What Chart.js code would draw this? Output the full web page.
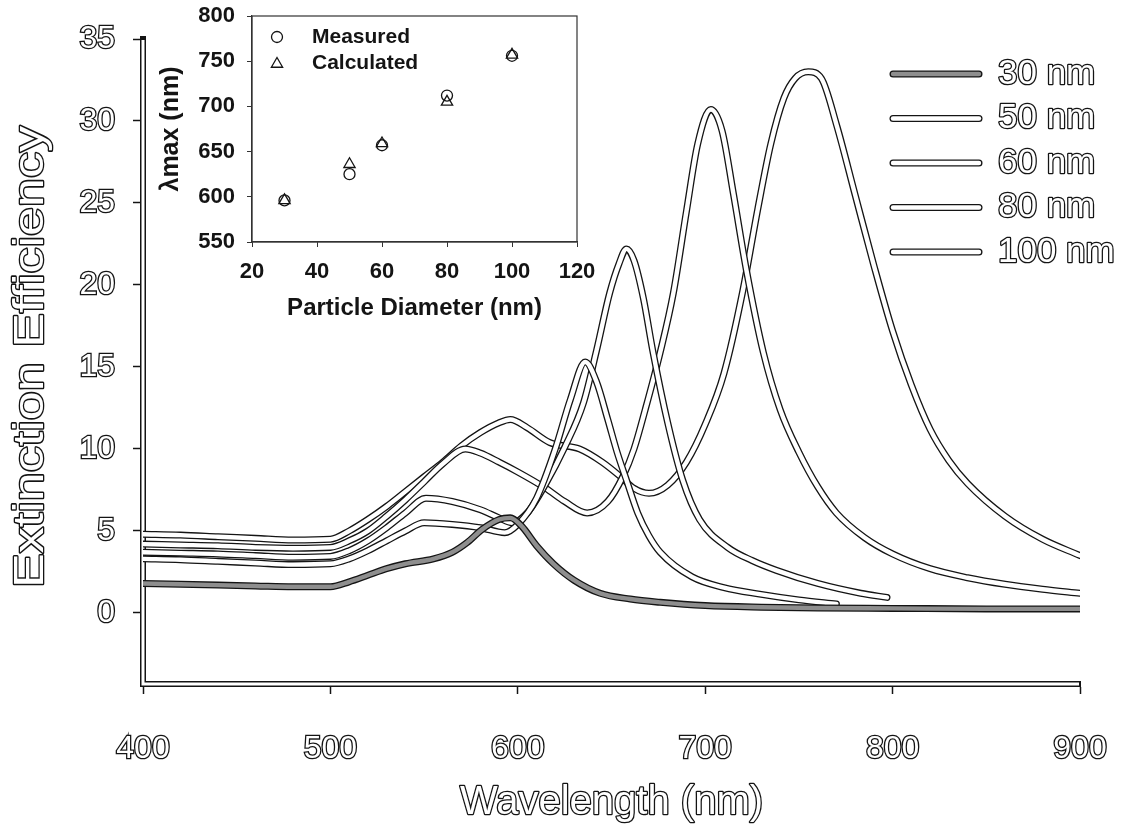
<!DOCTYPE html>
<html>
<head>
<meta charset="utf-8">
<title>Extinction efficiency spectra</title>
<script src="https://cdn.jsdelivr.net/npm/chart.js@4.4.1/dist/chart.umd.min.js"></script>
<style>
  html, body { margin: 0; padding: 0; background: #fff; }
  #wrap { position: relative; width: 1132px; height: 830px; }
  #main { position: absolute; left: 0; top: 0; }
  #inset { position: absolute; left: 130px; top: 0; }
</style>
</head>
<body>
<div id="wrap">
  <canvas id="main" width="1132" height="830"></canvas>
  <canvas id="inset" width="470" height="330"></canvas>
</div>
<script>
/* ---- extinction spectra, one wavelength grid per particle size ---- */
const sizeLabels = ["30 nm", "50 nm", "60 nm", "80 nm", "100 nm"];

const wl30  = [400, 420, 440, 460, 480, 500, 510, 520, 530, 540, 555, 565, 573, 581, 590, 596, 602, 610, 619, 630, 644, 660, 676, 700, 730, 760, 800, 850, 900];
const ext30 = [1.8, 1.75, 1.7, 1.65, 1.6, 1.6, 1.9, 2.3, 2.7, 3.0, 3.3, 3.7, 4.3, 5.1, 5.7, 5.8, 5.3, 4.1, 3.0, 2.0, 1.2, 0.85, 0.65, 0.45, 0.35, 0.3, 0.28, 0.25, 0.25];

const wl50  = [400, 420, 440, 460, 480, 500, 510, 520, 530, 540, 550, 565, 580, 593, 600, 610, 620, 628, 636, 642, 648, 653, 658, 664, 670, 676, 693, 710, 729, 750, 770];
const ext50 = [3.3, 3.25, 3.15, 3.05, 2.95, 3.0, 3.3, 3.8, 4.4, 5.0, 5.5, 5.4, 5.2, 4.9, 5.4, 7.0, 10.0, 13.0, 15.3, 14.1, 11.8, 9.8, 8.1, 6.1, 4.7, 3.7, 2.2, 1.55, 1.15, 0.8, 0.55];

const wl60  = [400, 420, 440, 460, 480, 500, 510, 520, 530, 540, 551, 565, 580, 590, 597, 605, 615, 625, 635, 642, 649, 654, 658, 662, 667, 672, 680, 688, 697, 712, 725, 738, 760, 783, 797];
const ext60 = [3.7, 3.65, 3.6, 3.5, 3.4, 3.45, 3.8, 4.4, 5.2, 6.1, 7.0, 6.8, 6.3, 5.8, 5.5, 6.1, 7.9, 10.1, 12.8, 16.0, 19.5, 21.3, 22.2, 21.5, 19.2, 16.0, 11.6, 8.1, 5.7, 4.0, 3.2, 2.6, 1.8, 1.2, 0.95];

const wl80  = [400, 420, 440, 460, 480, 500, 510, 520, 530, 540, 550, 560, 572, 580, 590, 600, 615, 625, 637, 648, 656, 662, 668, 676, 683, 690, 696, 703, 709, 715, 722, 731, 740, 750, 760, 770, 785, 800, 820, 840, 860, 880, 900];
const ext80 = [4.2, 4.15, 4.1, 4.0, 3.95, 4.0, 4.4, 5.0, 5.9, 6.9, 8.0, 9.1, 10.0, 9.75, 9.2, 8.6, 7.6, 6.8, 6.1, 6.8, 8.3, 10.0, 12.4, 15.9, 19.5, 24.5, 28.6, 30.7, 29.4, 25.6, 20.9, 15.9, 12.4, 9.8, 7.7, 6.1, 4.6, 3.6, 2.7, 2.15, 1.75, 1.45, 1.2];

const wl100  = [400, 420, 440, 460, 480, 500, 510, 520, 530, 540, 550, 560, 570, 580, 590, 596, 605, 617, 633, 645, 655, 662, 670, 680, 690, 700, 710, 720, 728, 735, 742, 748, 755, 762, 770, 780, 790, 800, 810, 820, 830, 840, 860, 880, 900];
const ext100 = [4.8, 4.75, 4.65, 4.55, 4.45, 4.5, 5.0, 5.7, 6.5, 7.4, 8.3, 9.2, 10.2, 11.0, 11.6, 11.8, 11.3, 10.4, 10.0, 9.2, 8.3, 7.6, 7.3, 7.8, 9.2, 11.5, 14.6, 19.6, 24.6, 28.6, 31.4, 32.6, 33.0, 32.6, 29.8, 25.5, 21.2, 17.2, 13.9, 11.2, 9.3, 7.9, 5.9, 4.5, 3.5];

const xTicksMain = [400, 500, 600, 700, 800, 900];
const yTicksMain = [0, 5, 10, 15, 20, 25, 30, 35];

/* ---- inset: resonance wavelength against particle diameter ---- */
const diameters        = [30, 50, 60, 80, 100];
const lambdaMeasured   = [596, 625, 657, 712, 756];
const lambdaCalculated = [596, 636, 659, 705, 757];
const insetXTicks = [20, 40, 60, 80, 100, 120];
const insetYTicks = [550, 600, 650, 700, 750, 800];

const INK = "#141414";
const FAMILY = "'Liberation Sans', Arial, Helvetica, sans-serif";
const coreColors = ["#8e8e8e", "#ffffff", "#ffffff", "#ffffff", "#ffffff"];

// every curve is a dark wide stroke with a narrower core on top -> "hollow" line
const lineCommon = {
  pointRadius: 0,
  fill: false,
  cubicInterpolationMode: "monotone",
  borderCapStyle: "round",
  borderJoinStyle: "round",
};

function hollowSeries(k, wl, ext) {
  const pts = wl.map((x, i) => ({ x, y: ext[i] }));
  return [
    { ...lineCommon, label: sizeLabels[k], data: pts, borderColor: INK, borderWidth: 7, order: 2 * k + 1 },
    { ...lineCommon, label: sizeLabels[k] + " core", data: pts, borderColor: coreColors[k], borderWidth: 4.4, order: 2 * k },
  ];
}

const mainDatasets = [
  ...hollowSeries(0, wl30, ext30),
  ...hollowSeries(1, wl50, ext50),
  ...hollowSeries(2, wl60, ext60),
  ...hollowSeries(3, wl80, ext80),
  ...hollowSeries(4, wl100, ext100),
];

function hollowText(ctx, text, x, y, o) {
  ctx.save();
  ctx.translate(x, y);
  if (o.rotate) ctx.rotate(o.rotate);
  if (o.stretch) ctx.scale(o.stretch, 1);
  ctx.font = o.font;
  ctx.textAlign = o.align || "left";
  ctx.textBaseline = o.baseline || "middle";
  ctx.lineJoin = "round";
  ctx.lineWidth = 2.6;
  ctx.strokeStyle = INK;
  ctx.strokeText(text, 0, 0);
  ctx.fillStyle = "#fff";
  ctx.fillText(text, 0, 0);
  ctx.restore();
}

// double axis lines, hollow titles and the size legend
const hollowDecor = {
  id: "hollowDecor",
  beforeDatasetsDraw(chart) {
    const { ctx, chartArea: a } = chart;
    ctx.save();
    ctx.strokeStyle = "#fff";
    ctx.lineWidth = 3;
    ctx.lineJoin = "miter";
    ctx.beginPath();
    ctx.moveTo(a.left, a.top + 1);
    ctx.lineTo(a.left, a.bottom);
    ctx.lineTo(a.right - 1, a.bottom);
    ctx.stroke();
    ctx.restore();
  },
  afterDraw(chart) {
    const { ctx, chartArea: a } = chart;
    hollowText(ctx, "Wavelength (nm)", (a.left + a.right) / 2, 814,
      { font: "40px " + FAMILY, align: "center", baseline: "alphabetic" });
    hollowText(ctx, "Extinction Efficiency", 43, 357,
      { font: "42px " + FAMILY, align: "center", baseline: "alphabetic", rotate: -Math.PI / 2, stretch: 1.24 });

    // legend: hollow sample line + label per size
    sizeLabels.forEach((name, i) => {
      const y = 74 + i * 44.5;
      ctx.save();
      ctx.lineCap = "round";
      ctx.beginPath();
      ctx.moveTo(893, y);
      ctx.lineTo(979, y);
      ctx.strokeStyle = INK;
      ctx.lineWidth = 7;
      ctx.stroke();
      ctx.strokeStyle = coreColors[i];
      ctx.lineWidth = 4.4;
      ctx.stroke();
      ctx.restore();
      hollowText(ctx, name, 998, y, { font: "35px " + FAMILY });
    });
  },
};

const hollowTicks = {
  color: "#fff",
  textStrokeColor: INK,
  textStrokeWidth: 2.6,
  font: { family: FAMILY, size: 32 },
};

new Chart(document.getElementById("main"), {
  type: "line",
  data: { datasets: mainDatasets },
  plugins: [hollowDecor],
  options: {
    responsive: false,
    animation: false,
    events: [],
    layout: { padding: { top: 39, right: 52, left: 0, bottom: 0 } },
    plugins: { legend: { display: false }, tooltip: { enabled: false } },
    scales: {
      x: {
        type: "linear",
        min: 400,
        max: 900,
        afterBuildTicks: (s) => { s.ticks = xTicksMain.map((value) => ({ value })); },
        afterFit: (s) => { s.height = 146; s.paddingLeft = 0; s.paddingRight = 0; },
        ticks: { ...hollowTicks, padding: 36 },
        grid: { drawOnChartArea: false, tickLength: 10, tickColor: INK, tickWidth: 1.5 },
        border: { color: INK, width: 6 },
      },
      y: {
        type: "linear",
        min: -4.33,
        max: 35,
        afterBuildTicks: (s) => { s.ticks = yTicksMain.map((value) => ({ value })); },
        afterFit: (s) => { s.width = 143; s.paddingTop = 0; s.paddingBottom = 0; },
        ticks: { ...hollowTicks, padding: 18 },
        grid: { drawOnChartArea: false, tickLength: 10, tickColor: INK, tickWidth: 1.5 },
        border: { color: INK, width: 6 },
      },
    },
  },
});

/* ---- inset scatter ---- */
const insetFrame = {
  id: "insetFrame",
  afterDraw(chart) {
    const { ctx, chartArea: a } = chart;
    ctx.save();
    ctx.strokeStyle = "#333";
    ctx.lineWidth = 1.2;
    ctx.strokeRect(a.left, a.top, a.right - a.left, a.bottom - a.top);

    // legend
    ctx.lineWidth = 1.3;
    ctx.strokeStyle = INK;
    ctx.beginPath();
    ctx.arc(147, 37, 5.5, 0, Math.PI * 2);
    ctx.stroke();
    const r = 6.5, cx = 147, cy = 64;
    ctx.beginPath();
    for (let k = 0; k < 3; k++) {
      const ang = k * 2 * Math.PI / 3;
      const px = cx + Math.sin(ang) * r, py = cy - Math.cos(ang) * r;
      if (k === 0) ctx.moveTo(px, py); else ctx.lineTo(px, py);
    }
    ctx.closePath();
    ctx.stroke();

    ctx.fillStyle = INK;
    ctx.font = "bold 21px " + FAMILY;
    ctx.textBaseline = "middle";
    ctx.fillText("Measured", 182, 37);
    ctx.fillText("Calculated", 182, 63);
    ctx.restore();
  },
};

const insetTickFont = { family: FAMILY, size: 22, weight: "bold" };

new Chart(document.getElementById("inset"), {
  type: "scatter",
  plugins: [insetFrame],
  data: {
    datasets: [
      {
        label: "Measured",
        data: diameters.map((d, i) => ({ x: d, y: lambdaMeasured[i] })),
        pointStyle: "circle",
        pointRadius: 5.5,
        borderColor: INK,
        borderWidth: 1.3,
        backgroundColor: "rgba(0,0,0,0)",
      },
      {
        label: "Calculated",
        data: diameters.map((d, i) => ({ x: d, y: lambdaCalculated[i] })),
        pointStyle: "triangle",
        pointRadius: 6.5,
        borderColor: INK,
        borderWidth: 1.3,
        backgroundColor: "rgba(0,0,0,0)",
      },
    ],
  },
  options: {
    responsive: false,
    animation: false,
    events: [],
    layout: { padding: { top: 16, right: 23, left: 0, bottom: 0 } },
    plugins: { legend: { display: false }, tooltip: { enabled: false } },
    scales: {
      x: {
        type: "linear",
        min: 20,
        max: 120,
        afterBuildTicks: (s) => { s.ticks = insetXTicks.map((value) => ({ value })); },
        afterFit: (s) => { s.height = 88; s.paddingLeft = 0; s.paddingRight = 0; },
        ticks: { color: INK, font: insetTickFont, padding: 12 },
        grid: { drawOnChartArea: false, tickLength: 5, tickColor: "#333", tickWidth: 1 },
        border: { color: "#333", width: 1.2 },
        title: {
          display: true,
          text: "Particle Diameter (nm)",
          color: INK,
          font: { family: FAMILY, size: 24, weight: "bold" },
          padding: { top: 0, bottom: 7 },
        },
      },
      y: {
        type: "linear",
        min: 550,
        max: 800,
        afterBuildTicks: (s) => { s.ticks = insetYTicks.map((value) => ({ value })); },
        afterFit: (s) => { s.width = 122; s.paddingTop = 0; s.paddingBottom = 0; },
        ticks: { color: INK, font: insetTickFont, padding: 12 },
        grid: { drawOnChartArea: false, tickLength: 5, tickColor: "#333", tickWidth: 1 },
        border: { color: "#333", width: 1.2 },
        title: {
          display: true,
          text: "λmax (nm)",
          color: INK,
          font: { family: FAMILY, size: 25, weight: "bold" },
          padding: { top: 26, bottom: 0 },
        },
      },
    },
  },
});
</script>
</body>
</html>
